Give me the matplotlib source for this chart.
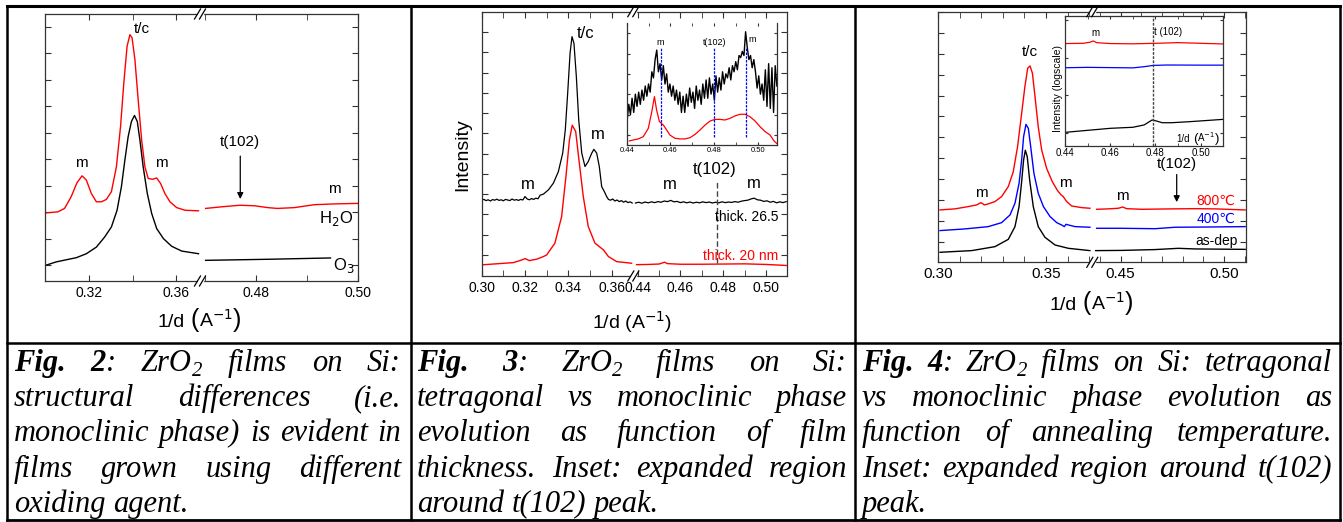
import matplotlib
matplotlib.use('Agg')
import matplotlib.pyplot as plt
import numpy as np
from matplotlib.lines import Line2D
from matplotlib.patches import Rectangle

plt.rcParams['font.family'] = ['Liberation Sans', 'DejaVu Sans']
plt.rcParams['mathtext.fontset'] = 'dejavusans'

# ---------------- data ----------------
# Fig. 2 (H2O vs O3)
f2_h2o_x = [0.300, 0.3057, 0.3088, 0.3118, 0.3145, 0.3168, 0.3188, 0.3211, 0.3234, 0.3257, 0.3280,
            0.3303, 0.3326, 0.3345, 0.3360, 0.3375, 0.3388, 0.3398, 0.3411, 0.3426, 0.3442, 0.3457,
            0.3472, 0.3492, 0.3511, 0.3529, 0.3549, 0.3572, 0.3603, 0.3642, 0.3703]
f2_h2o_y = [1.98, 2.02, 2.15, 2.59, 3.12, 3.38, 3.22, 2.71, 2.40, 2.40, 2.49,
            2.78, 3.72, 5.24, 6.88, 8.27, 8.71, 8.59, 7.77, 6.25, 4.73, 3.72,
            3.28, 3.25, 3.30, 3.09, 2.71, 2.40, 2.18, 2.08, 2.06]
f2_h2o_x2 = [0.4701, 0.4732, 0.4768, 0.4797, 0.4823, 0.4842, 0.4875, 0.4914, 0.4953, 0.5000]
f2_h2o_y2 = [2.15, 2.21, 2.27, 2.25, 2.18, 2.15, 2.18, 2.29, 2.32, 2.34]
f2_o3_x = [0.300, 0.3049, 0.3095, 0.3142, 0.3188, 0.3234, 0.3272, 0.3303, 0.3329, 0.3349, 0.3365, 0.3380,
           0.3395, 0.3409, 0.3422, 0.3434, 0.3449, 0.3468, 0.3488, 0.3511, 0.3542, 0.3580, 0.3626, 0.3703]
f2_o3_y = [0.0, 0.13, 0.21, 0.29, 0.44, 0.69, 1.07, 1.45, 2.08, 2.97, 3.98, 4.86,
           5.43, 5.66, 5.43, 4.73, 3.72, 2.71, 1.96, 1.39, 1.01, 0.72, 0.54, 0.44]
f2_o3_x2 = [0.4701, 0.4823, 0.4946]
f2_o3_y2 = [0.19, 0.23, 0.28]

# Fig. 3 (thickness)
f3_20_x = [0.300, 0.3146, 0.3185, 0.3200, 0.3220, 0.3254, 0.3285, 0.3300, 0.3338, 0.3369, 0.3389,
           0.3405, 0.3418, 0.3434, 0.3449, 0.3469, 0.3492, 0.3523, 0.3562, 0.3585, 0.3623, 0.3692]
f3_20_y = [-0.49, -0.38, -0.25, -0.18, -0.28, -0.21, -0.08, 0.00, 0.58, 1.89, 3.87,
           5.67, 6.40, 6.09, 4.69, 2.88, 1.40, 0.58, 0.25, -0.08, -0.33, -0.41]
f3_20_x2 = [0.4395, 0.445, 0.450, 0.4515, 0.4526, 0.4540, 0.460, 0.470, 0.480, 0.490, 0.500, 0.5095]
f3_20_y2 = [-0.48, -0.47, -0.45, -0.40, -0.36, -0.43, -0.46, -0.46, -0.45, -0.44, -0.47, -0.52]
f3_26_noise_a = [2.70, 2.74, 2.68, 2.72, 2.66, 2.73, 2.70, 2.75, 2.69, 2.72, 2.67, 2.74, 2.71, 2.68,
                 2.76, 2.70, 2.73, 2.69, 2.74, 2.71, 2.88, 2.76, 2.72, 2.78, 2.74, 2.80, 2.77, 2.95]
f3_26_peak_x = [0.3285, 0.3308, 0.3331, 0.3354, 0.3374, 0.3386, 0.3397, 0.3408, 0.3417, 0.3426, 0.3437,
                0.3448, 0.3462, 0.3477, 0.3492, 0.3508, 0.3518, 0.3531, 0.3543, 0.3554, 0.3566, 0.3577]
f3_26_peak_y = [3.00, 3.21, 3.54, 4.11, 5.02, 6.17, 7.98, 9.95, 10.77, 10.44, 8.80,
                6.66, 5.02, 4.36, 4.61, 5.02, 5.21, 5.02, 4.36, 3.37, 3.13, 2.88]
f3_26_noise_b = [2.74, 2.70, 2.76, 2.66, 2.71, 2.63, 2.68, 2.60, 2.66, 2.58, 2.62, 2.56]
f3_26_right = [2.56, 2.60, 2.55, 2.61, 2.57, 2.62, 2.58, 2.63, 2.60, 2.66, 2.63, 2.69, 2.62, 2.64,
               2.58, 2.62, 2.57, 2.61, 2.56, 2.60, 2.57, 2.62, 2.58, 2.61, 2.56, 2.60, 2.57, 2.62,
               2.58, 2.61, 2.59, 2.63, 2.60, 2.65, 2.68, 2.70, 2.76, 2.80, 2.72, 2.70, 2.64, 2.67,
               2.60, 2.64, 2.57, 2.62, 2.58, 2.63]
# Fig. 3 inset
f3i_red_x = [0.4412, 0.4431, 0.4453, 0.4476, 0.4499, 0.4515, 0.4527, 0.4537, 0.4550, 0.4568, 0.4583,
             0.4598, 0.4621, 0.4644, 0.4667, 0.4690, 0.4713, 0.4736, 0.4759, 0.4782, 0.4805, 0.4827,
             0.4850, 0.4873, 0.4896, 0.4919, 0.4942, 0.4965, 0.4988, 0.5011, 0.5034, 0.5057, 0.5075, 0.5087]
f3i_red_y = [0.20, 0.25, 0.30, 0.41, 0.82, 1.64, 2.38, 1.72, 1.15, 0.98, 0.74,
             0.49, 0.33, 0.30, 0.30, 0.36, 0.52, 0.74, 0.98, 1.18, 1.26, 1.26,
             1.23, 1.31, 1.43, 1.51, 1.51, 1.39, 1.18, 0.90, 0.66, 0.49, 0.20, 0.08]
f3i_black = [1.2, 2.0, 1.5, 2.3, 1.6, 2.5, 1.9, 2.6, 2.0, 2.7, 2.2, 2.9, 2.4,
             3.0, 2.6, 3.6, 3.3, 4.2, 4.67, 3.6,
             4.0, 3.2, 3.9, 3.0, 3.5,
             2.6, 3.0, 2.4, 2.9, 2.2, 2.7, 2.0, 2.6, 1.6, 2.4,
             1.6, 2.5, 1.9, 2.8, 2.1, 2.6, 1.8, 2.9, 2.2, 2.7, 2.0, 3.0, 2.3,
             3.2, 2.3, 3.3, 2.5, 3.0, 2.2, 3.4, 2.6, 3.3, 2.7, 3.6, 3.0, 3.5,
             3.3, 3.8, 3.2, 3.9, 3.6, 4.1, 3.7, 4.4, 4.3, 4.6, 4.4, 5.57, 4.8,
             4.2, 4.4, 3.8, 4.2, 3.6, 2.8, 3.4, 2.5, 3.0, 2.2, 3.7, 1.9, 4.0, 1.8, 3.8, 1.6, 3.9, 2.9]
f3i_marks = [0.4555, 0.4802, 0.4945]

# Fig. 4 (annealing)
f4_800_x = [0.3008, 0.3077, 0.3139, 0.3178, 0.3198, 0.3214, 0.3232, 0.3263, 0.3294, 0.3325, 0.3348,
            0.3368, 0.3387, 0.3402, 0.3415, 0.3426, 0.3437, 0.3449, 0.3464, 0.3480, 0.3503, 0.3529,
            0.3554, 0.3570, 0.3580, 0.3596, 0.3619, 0.3666, 0.3704]
f4_800_y = [1.52, 1.57, 1.68, 1.76, 1.87, 1.76, 1.81, 1.92, 2.16, 2.64, 3.35,
            4.55, 6.15, 7.43, 8.31, 8.42, 8.07, 6.95, 5.51, 4.39, 3.51, 2.88,
            2.44, 2.24, 2.16, 1.92, 1.71, 1.63, 1.60]
f4_800_x2 = [0.4384, 0.4440, 0.4489, 0.4510, 0.4529, 0.4602, 0.4747, 0.4860, 0.4956, 0.5102]
f4_800_y2 = [1.55, 1.57, 1.60, 1.66, 1.58, 1.55, 1.57, 1.58, 1.57, 1.52]
f4_400_x = [0.3008, 0.3124, 0.3232, 0.3294, 0.3333, 0.3356, 0.3375, 0.3387, 0.3396, 0.3407, 0.3418,
            0.3429, 0.3444, 0.3464, 0.3488, 0.3519, 0.3550, 0.3576, 0.3585, 0.3593, 0.3604, 0.3635, 0.3704]
f4_400_y = [0.53, 0.61, 0.72, 0.91, 1.28, 1.84, 2.80, 3.91, 5.03, 5.62, 5.43,
            4.55, 3.27, 2.32, 1.68, 1.20, 0.91, 0.78, 0.72, 0.83, 0.80, 0.72, 0.69]
f4_400_x2 = [0.4384, 0.4505, 0.4666, 0.4763, 0.4908, 0.5102]
f4_400_y2 = [0.64, 0.64, 0.62, 0.69, 0.70, 0.72]
f4_dep_x = [0.3008, 0.3155, 0.3263, 0.3325, 0.3356, 0.3375, 0.3387, 0.3396, 0.3404, 0.3413, 0.3424,
            0.3441, 0.3464, 0.3495, 0.3542, 0.3604, 0.3704]
f4_dep_y = [-0.51, -0.43, -0.24, 0.11, 0.72, 1.68, 2.88, 3.91, 4.38, 4.07, 2.96,
            1.68, 0.72, 0.21, -0.16, -0.32, -0.43]
f4_dep_x2 = [0.4379, 0.4505, 0.4666, 0.4779, 0.4860, 0.5102]
f4_dep_y2 = [-0.43, -0.42, -0.38, -0.32, -0.35, -0.37]
# Fig. 4 inset
f4i_red_x = [0.440, 0.448, 0.451, 0.4525, 0.454, 0.460, 0.470, 0.480, 0.490, 0.500, 0.510]
f4i_red_y = [7.88, 7.90, 7.98, 8.08, 7.95, 7.88, 7.86, 7.90, 7.95, 7.90, 7.85]
f4i_blue_x = [0.440, 0.450, 0.460, 0.470, 0.475, 0.479, 0.485, 0.500, 0.510]
f4i_blue_y = [6.02, 6.05, 6.03, 6.01, 6.10, 6.20, 6.23, 6.22, 6.22]
f4i_dep_x = [0.440, 0.460, 0.470, 0.475, 0.4785, 0.4805, 0.483, 0.487, 0.495, 0.510]
f4i_dep_y = [1.05, 1.36, 1.44, 1.62, 2.00, 1.92, 1.79, 1.79, 1.87, 2.05]

# captions
cap2 = ["Fig. 2: ZrO2 films on Si:", "structural differences (i.e.",
        "monoclinic phase) is evident in", "films grown using different", "oxiding agent."]
cap3 = ["Fig. 3: ZrO2 films on Si:", "tetragonal vs monoclinic phase",
        "evolution as function of film", "thickness. Inset: expanded region", "around t(102) peak."]
cap4 = ["Fig. 4: ZrO2 films on Si: tetragonal", "vs monoclinic phase evolution as",
        "function of annealing temperature.", "Inset: expanded region around t(102)", "peak."]

# ---------------- figure ----------------
W, H = 1343, 522
fig = plt.figure(figsize=(W / 100, H / 100), dpi=100)
renderer = fig.canvas.get_renderer()


def fx(x):
    return x / W


def fy(y):
    return 1 - y / H


def box(x0, y0, x1, y1):
    return [x0 / W, 1 - y1 / H, (x1 - x0) / W, (y1 - y0) / H]


def style(ax, lsize):
    for s in ax.spines.values():
        s.set_color('#333333')
        s.set_linewidth(0.9)
    ax.tick_params(which='both', direction='in', top=True, right=True,
                   colors='#333333', labelcolor='black', labelsize=lsize)
    ax.tick_params(which='both', length=4)


def broken(x0, xb, x1, y0, y1, xl1, xl2, ylim, yticks, lsize):
    a = fig.add_axes(box(x0, y0, xb, y1))
    b = fig.add_axes(box(xb, y0, x1, y1))
    a.set_xlim(*xl1)
    b.set_xlim(*xl2)
    for ax in (a, b):
        ax.set_ylim(*ylim)
        ax.set_yticks(yticks)
        ax.set_yticklabels([])
        style(ax, lsize)
    a.spines['right'].set_visible(False)
    a.tick_params(axis='y', right=False)
    b.spines['left'].set_visible(False)
    b.tick_params(axis='y', left=False)
    # break marks
    for yy in (y0, y1):
        fig.add_artist(Rectangle((fx(xb - 2.5), fy(yy + 2)), 5 / W, 4 / H,
                                 transform=fig.transFigure, color='white', zorder=5))
        for dx in (-2.5, 2.5):
            fig.add_artist(Line2D([fx(xb + dx - 3), fx(xb + dx + 3)], [fy(yy + 5), fy(yy - 5)],
                                  transform=fig.transFigure, color='black', lw=0.9, zorder=6))
    return a, b


def xt(ax, major, minor):
    ax.set_xticks(major)
    ax.set_xticklabels(['%.2f' % v for v in major])
    ax.set_xticks(minor, minor=True)


def unit_label(xc, yb, fs, pfs):
    # "1/d (A^-1)" with the tall brackets of the original
    segs = [('1/d', fs, 0), ('(', pfs, fs * 0.3), ('A$^{-1}$', fs, 0), (')', pfs, 0)]
    arts, total = [], 0
    for s, size, gap in segs:
        total += gap * 100 / 72
        t = fig.text(0, 0, s, fontsize=size, ha='left', va='baseline', zorder=7)
        arts.append((t, total))
        total += t.get_window_extent(renderer).width
    for t, off in arts:
        t.set_position((fx(xc - total / 2 + off), fy(yb)))


# ----- Fig. 2 panel -----
a, b = broken(45, 200, 358, 14, 281, (0.2998, 0.371), (0.469, 0.50), (-0.59, 9.49), range(0, 10), 10)
xt(a, [0.32, 0.36], [0.30, 0.34])
xt(b, [0.48, 0.50], [0.47, 0.49])
a.plot(f2_h2o_x, f2_h2o_y, color='red', lw=1)
b.plot(f2_h2o_x2, f2_h2o_y2, color='red', lw=1)
a.plot(f2_o3_x, f2_o3_y, color='black', lw=1)
b.plot(f2_o3_x2, f2_o3_y2, color='black', lw=1)
a.text(0.3442, 8.93, 't/c', fontsize=11, ha='center', va='center')
a.text(0.3165, 3.85, 'm', fontsize=11, ha='center', va='center')
a.text(0.3534, 3.85, 'm', fontsize=11, ha='center', va='center')
b.text(0.4769, 4.65, 't(102)', fontsize=11, ha='center', va='center')
b.annotate('', xy=(0.4769, 2.40), xytext=(0.4769, 4.23),
           arrowprops=dict(arrowstyle='-|>', color='black', lw=0.9, mutation_scale=9))
b.text(0.4953, 2.90, 'm', fontsize=11, ha='center', va='center')
b.text(0.4956, 1.77, 'H$_2$O', fontsize=12, ha='center', va='center')
b.text(0.4972, 0.0, 'O$_3$', fontsize=12, ha='center', va='center')
unit_label(199, 327, 14, 18)

# ----- Fig. 3 panel -----
a, b = broken(481.7, 633.3, 787.3, 11.7, 276, (0.30, 0.37), (0.438, 0.51), (-1.04, 12.0), range(0, 12), 10)
xt(a, [0.30, 0.32, 0.34, 0.36], [0.31, 0.33, 0.35, 0.37])
xt(b, [0.44, 0.46, 0.48, 0.50], [0.45, 0.47, 0.49, 0.51])
a.plot(f3_20_x, f3_20_y, color='red', lw=1)
b.plot(f3_20_x2, f3_20_y2, color='red', lw=1)
xa = list(np.linspace(0.300, 0.327, len(f3_26_noise_a))) + f3_26_peak_x + \
    list(np.linspace(0.3585, 0.3695, len(f3_26_noise_b)))
ya = f3_26_noise_a + f3_26_peak_y + f3_26_noise_b
a.plot(xa, ya, color='black', lw=0.9)
b.plot(np.linspace(0.439, 0.5095, len(f3_26_right)), f3_26_right, color='black', lw=0.9)
b.plot([0.4769, 0.4769], [-0.41, 3.70], color='#444444', lw=1, ls=(0, (4, 2)))
a.text(0.3478, 10.94, 't/c', fontsize=12, ha='center', va='center')
a.text(0.3535, 5.92, 'm', fontsize=12, ha='center', va='center')
a.text(0.3215, 3.49, 'm', fontsize=12, ha='center', va='center')
b.text(0.4549, 3.45, 'm', fontsize=12, ha='center', va='center')
b.text(0.4942, 3.54, 'm', fontsize=12, ha='center', va='center')
b.text(0.4762, 4.19, 't(102)', fontsize=12, ha='center', va='center')
b.text(0.5057, 1.89, 'thick. 26.5', fontsize=10, ha='right', va='center')
b.text(0.5057, -0.05, 'thick. 20 nm', fontsize=10, ha='right', va='center', color='red')
fig.text(fx(463), fy(155), 'Intensity', fontsize=14, rotation=90, ha='center', va='center')
fig.text(fx(631.7), fy(321.7), r'1/d (A$^{-1}$)', fontsize=14, ha='center', va='center')

ins = fig.add_axes(box(626.7, 23, 777.3, 145))
style(ins, 5.5)
ins.spines['top'].set_visible(False)
ins.set_xlim(0.44, 0.509)
ins.set_ylim(0, 6.0)
xt(ins, [0.44, 0.46, 0.48, 0.50], [0.45, 0.47, 0.49])
ins.set_yticks([0.5, 1.5, 2.5, 3.5, 4.5, 5.5])
ins.set_yticklabels([])
ins.tick_params(which='both', length=2.5, pad=1.5)
ins.plot(f3i_red_x, f3i_red_y, color='red', lw=0.9)
ins.plot(np.linspace(0.4402, 0.5088, len(f3i_black)), f3i_black, color='black', lw=1.0)
for xm in f3i_marks:
    ins.plot([xm, xm], [0.41, 4.84], color='blue', lw=0.9, ls=(0, (2, 1)))
ins.text(f3i_marks[0], 5.05, 'm', fontsize=6.5, ha='center', va='center')
ins.text(f3i_marks[1], 5.05, 't(102)', fontsize=6.5, ha='center', va='center')
ins.text(0.4975, 5.2, 'm', fontsize=6.5, ha='center', va='center')

# ----- Fig. 4 panel -----
a, b = broken(938.3, 1092.3, 1246, 11.7, 262.3, (0.30, 0.3715), (0.4363, 0.5106), (-0.99, 11.02),
              range(0, 12), 11)
xt(a, [0.30, 0.35], [0.31, 0.32, 0.33, 0.34, 0.36, 0.37])
xt(b, [0.45, 0.50], [0.44, 0.46, 0.47, 0.48, 0.49, 0.51])
a.plot(f4_800_x, f4_800_y, color='red', lw=1)
b.plot(f4_800_x2, f4_800_y2, color='red', lw=1)
a.plot(f4_400_x, f4_400_y, color='blue', lw=1)
b.plot(f4_400_x2, f4_400_y2, color='blue', lw=1)
a.plot(f4_dep_x, f4_dep_y, color='black', lw=1)
b.plot(f4_dep_x2, f4_dep_y2, color='black', lw=1)
a.text(0.3426, 9.07, 't/c', fontsize=11, ha='center', va='center')
a.text(0.3201, 2.32, 'm', fontsize=11, ha='center', va='center')
a.text(0.3588, 2.83, 'm', fontsize=11, ha='center', va='center')
b.text(0.4510, 2.20, 'm', fontsize=11, ha='center', va='center')
b.text(0.4771, 3.71, 't(102)', fontsize=11, ha='center', va='center')
b.annotate('', xy=(0.4771, 1.76), xytext=(0.4771, 3.35),
           arrowprops=dict(arrowstyle='-|>', color='black', lw=0.9, mutation_scale=9))
b.text(0.5053, 1.96, '800\u2103', fontsize=10, ha='right', va='center', color='red')
b.text(0.5053, 1.09, '400\u2103', fontsize=10, ha='right', va='center', color='blue')
b.text(0.5065, 0.05, 'as-dep', fontsize=10, ha='right', va='center')
unit_label(1091, 310, 14, 18)

ins = fig.add_axes(box(1065, 16, 1223.3, 146))
style(ins, 7)
ins.set_xlim(0.44, 0.51)
ins.set_ylim(0, 10)
xt(ins, [0.44, 0.46, 0.48, 0.50], [0.45, 0.47, 0.49])
ins.set_yticks([0.97, 3.9, 6.75, 9.7])
ins.set_yticklabels([])
ins.tick_params(which='both', length=2.5, pad=1.5)
ins.plot(f4i_red_x, f4i_red_y, color='red', lw=0.9)
ins.plot(f4i_blue_x, f4i_blue_y, color='blue', lw=0.9)
ins.plot(f4i_dep_x, f4i_dep_y, color='black', lw=0.9)
ins.axvline(0.479, color='#444444', lw=1, ls=(0, (2, 1)))
ins.text(0.4533, 8.67, 'm', fontsize=7, ha='center', va='center')
ins.text(0.4795, 8.8, 't (102)', fontsize=7, ha='left', va='center')
unit_label(1198, 142, 7, 9.5)
fig.text(fx(1057.7), fy(88), 'Intensity (logscale)', fontsize=7.5, rotation=90, ha='center', va='center')

# ----- table borders -----
def hline(y, x0, x1, lw):
    fig.add_artist(Line2D([fx(x0), fx(x1)], [fy(y), fy(y)], transform=fig.transFigure,
                          color='black', lw=lw, zorder=10))


def vline(x, y0, y1, lw):
    fig.add_artist(Line2D([fx(x), fx(x)], [fy(y0), fy(y1)], transform=fig.transFigure,
                          color='black', lw=lw, zorder=10))


hline(6, 7, 1340, 2.2)
hline(519.5, 7, 1340, 2.0)
hline(343.3, 7, 1340, 1.8)
for xv in (7, 410.7, 855, 1340):
    vline(xv, 6, 519.5, 1.8)

# ----- captions (justified) -----
serif = 'Liberation Serif'
cap_fs = 22
base = [370.7, 406, 441, 476.7, 511.7]


def caption(lines, x0, x1):
    for li, line in enumerate(lines):
        items = []
        for wi, w in enumerate(line.split(' ')):
            if li == 0 and wi == 0:
                segs = [(w, True, False)]
            elif li == 0 and wi == 1:
                segs = [(w[:-1], True, False), (':', False, False)]
            elif w == 'ZrO2':
                segs = [('ZrO', False, False), ('2', False, True)]
            else:
                segs = [(w, False, False)]
            arts, wd = [], 0
            for s, bold, sub in segs:
                t = fig.text(0, 0, s, family=serif, style='italic',
                             weight='bold' if bold else 'normal',
                             fontsize=cap_fs * (0.68 if sub else 1), va='baseline', ha='left')
                arts.append((t, wd, sub))
                wd += t.get_window_extent(renderer).width
            items.append((arts, wd))
        total = sum(w for _, w in items)
        if li == len(lines) - 1:
            gap = cap_fs * 0.25 * 100 / 72
        else:
            gap = (x1 - x0 - total) / (len(items) - 1)
        x = x0
        for arts, wd in items:
            for t, off, sub in arts:
                t.set_position((fx(x + off), fy(base[li] + (5 if sub else 0))))
            x += wd + gap


caption(cap2, 14, 401)
caption(cap3, 417, 847)
caption(cap4, 862, 1332)

fig.savefig('out.png', dpi=100)
